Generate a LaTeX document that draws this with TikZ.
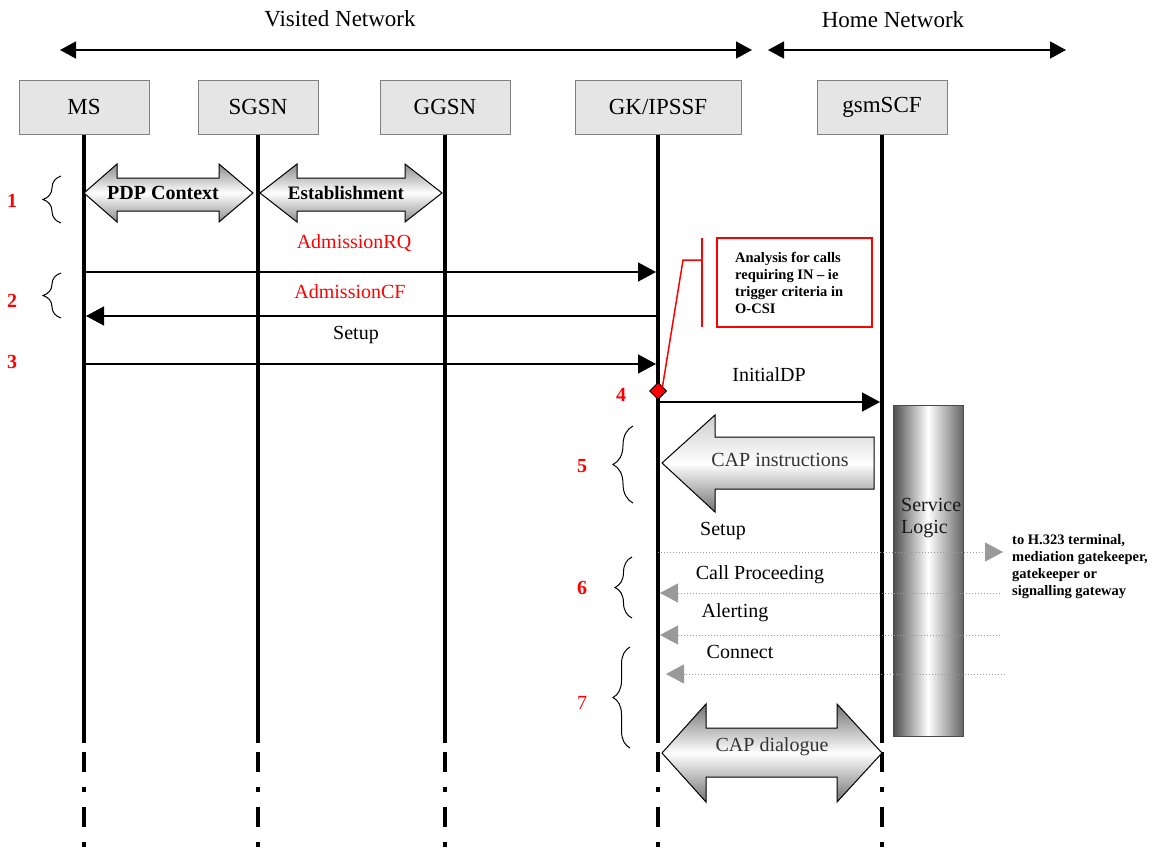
\documentclass[tikz,border=0pt]{standalone}
\usepackage{fontspec}
\setmainfont{Liberation Serif}
\usetikzlibrary{arrows.meta,shapes.geometric,decorations.pathreplacing}
\begin{document}
\begin{tikzpicture}[x=1pt,y=-1pt,
  entity/.style={draw=black!50, fill=black!10, line width=1pt, minimum width=130pt, minimum height=54pt, inner sep=0pt, font=\fontsize{23}{26}\selectfont},
  hdr/.style={inner sep=0pt, font=\fontsize{23}{26}\selectfont},
  life/.style={line width=4pt},
  lifetail/.style={line width=4pt, dash pattern=on 20pt off 15pt on 5pt off 15pt},
  span/.style={line width=1.5pt, {Triangle[length=16pt,width=17pt]}-{Triangle[length=16pt,width=17pt]}},
  msg/.style={line width=1.5pt, -{Triangle[length=18pt,width=19pt]}},
  relay/.style={draw=black!40, line width=1pt, dash pattern=on 1pt off 2pt, -{Triangle[length=18pt,width=19pt]}},
  lbl/.style={inner sep=0pt, font=\fontsize{20}{24}\selectfont},
  num/.style={inner sep=0pt, text=red, font=\fontsize{20}{24}\selectfont\bfseries},
  brc/.style={decorate, decoration={brace, amplitude=18pt}, line width=1pt},
  bigarrow/.style={draw=black, line width=1pt},
  small/.style={inner sep=0pt, align=left, font=\fontsize{14.5}{17}\selectfont\bfseries},
  redline/.style={draw=red, line width=1.5pt},
]
\useasboundingbox[fill=white] (0,0) rectangle (1156,849);

% network spans
\coordinate (vl) at (60,50); \coordinate (vr) at (752,50);
\coordinate (hl) at (768,50); \coordinate (hr) at (1066,50);
\draw[span] (vl) -- (vr);
\draw[span] (hl) -- (hr);
\node[hdr] (vis) at (340,19) {Visited Network};
\node[hdr] (home) at (893,20) {Home Network};

% entities
\node[entity] (ms) at (84,107) {MS};
\node[entity, minimum width=120pt] (sgsn) at (258,107) {SGSN};
\node[entity] (ggsn) at (445,107) {GGSN};
\node[entity, minimum width=166pt] (gk) at (658,107) {GK/IPSSF};
\node[entity] (scf) at (882,107) {gsmSCF};

% y levels
\coordinate (ysolid) at (0,743);
\coordinate (ytail) at (0,752);
\coordinate (ybot) at (0,849);
\coordinate (m1) at (0,272);
\coordinate (m2) at (0,316);
\coordinate (m3) at (0,364);
\coordinate (m4) at (0,402);

% lifelines
\foreach \n in {ms,sgsn,ggsn,gk,scf}{
  \draw[life] (\n.south) -- (\n.south |- ysolid);
  \draw[lifetail] (\n.south |- ytail) -- (\n.south |- ybot);
}

% step 1
\shadedraw[bigarrow, top color=black!45, bottom color=black!45, middle color=white]
  (84,193) -- (117,164) -- (117,178) -- (219,178) -- (219,164) -- (253,193) -- (219,222) -- (219,211) -- (117,211) -- (117,222) -- cycle;
\shadedraw[bigarrow, top color=black!45, bottom color=black!45, middle color=white]
  (260,193) -- (297,164) -- (297,178) -- (405,178) -- (405,164) -- (442,193) -- (405,222) -- (405,211) -- (297,211) -- (297,222) -- cycle;
\node[lbl, font=\fontsize{20}{24}\selectfont\bfseries] (pdp) at (163,193) {PDP Context};
\node[lbl, font=\fontsize{19}{24}\selectfont\bfseries] (est) at (346,193) {Establishment};

% braces and numbers
\draw[brc] (61,223) -- (61,176);
\draw[brc] (61,318) -- (61,273);
\draw[brc, decoration={amplitude=20pt}] (633,503) -- (633,426);
\draw[brc, decoration={amplitude=17pt}] (632,618) -- (632,557);
\draw[brc, decoration={amplitude=17pt}] (630,748) -- (630,647);
\node[num] (n1) at (12,201) {1};
\node[num] (n2) at (12,301) {2};
\node[num] (n3) at (12,362) {3};
\node[num] (n4) at (621,395) {4};
\node[num] (n5) at (582,466) {5};
\node[num] (n6) at (582,588) {6};
\node[num, font=\fontsize{20}{24}\selectfont] (n7) at (582,703) {7};

% steps 2-3
\draw[msg, shorten >=2pt] (ms.south |- m1) -- (gk.south |- m1);
\draw[msg, shorten >=2pt] (gk.south |- m2) -- (ms.south |- m2);
\draw[msg, shorten >=2pt] (ms.south |- m3) -- (gk.south |- m3);
\node[lbl, text=red] (arq) at (354,243) {AdmissionRQ};
\node[lbl, text=red] (acf) at (350,292) {AdmissionCF};
\node[lbl] (setup1) at (356,335) {Setup};

% analysis note
\node[draw=red, line width=1.5pt, minimum width=155pt, minimum height=89pt, inner sep=0pt] (note) at (794.5,282.5) {};
\node[small, anchor=west] (notetxt) at (735,282.5) {Analysis for calls\\requiring IN -- ie\\trigger criteria in\\O-CSI};
\coordinate (bartop) at (702,238);
\coordinate (barbot) at (702,327);
\coordinate (barmid) at (702,260);
\coordinate (bend) at (683,260);
\draw[redline] (bartop) -- (barbot);
\node[diamond, draw=black, fill=red, minimum size=17pt, inner sep=0pt, line width=1pt] (d4) at (658,391) {};
\draw[redline] (d4.north east) -- (bend) -- (barmid);

% step 4
\draw[msg, shorten >=2pt] (gk.south |- m4) -- (scf.south |- m4);
\node[lbl] (idp) at (769,375) {InitialDP};

% service logic
\shadedraw[draw=black!70, line width=1pt, left color=black!70, right color=black!60, middle color=white]
  (893,405) rectangle (963,736);
\node[lbl, align=left, anchor=west, text=black!90, font=\fontsize{20}{22}\selectfont] (svc) at (901,518) {Service\\Logic};

% step 5
\shadedraw[bigarrow, top color=black!20, bottom color=black!55, middle color=white]
  (662,463) -- (715,415) -- (715,437) -- (874,437) -- (874,489) -- (715,489) -- (715,512) -- cycle;
\node[lbl, text=black!80] (capi) at (780,460) {CAP instructions};

% step 6 relays
\coordinate (ext1) at (1003,552);
\coordinate (ext2) at (1000,593);
\coordinate (ext3) at (1000,635);
\coordinate (ext4) at (1005,674);
\coordinate (gk2) at (660,593);
\coordinate (gk3) at (660,635);
\coordinate (gk4) at (666,674);
\draw[relay] (gk.south |- ext1) -- (ext1);
\draw[relay] (ext2) -- (gk2);
\draw[relay] (ext3) -- (gk3);
\draw[relay] (ext4) -- (gk4);
\node[lbl] (setup2) at (723,531) {Setup};
\node[lbl] (cp) at (760,575) {Call Proceeding};
\node[lbl] (alert) at (735,613) {Alerting};
\node[lbl] (conn) at (740,652) {Connect};
\node[small, anchor=north west] (dest) at (1012,534) {to H.323 terminal,\\mediation gatekeeper,\\gatekeeper or\\signalling gateway};

% step 7
\shadedraw[bigarrow, top color=black!55, bottom color=black!55, middle color=white]
  (662,753) -- (706,704) -- (706,728) -- (837,728) -- (837,704) -- (882,753) -- (837,802) -- (837,777) -- (706,777) -- (706,802) -- cycle;
\node[lbl, text=black!80] (capd) at (772,747) {CAP dialogue};
\end{tikzpicture}
\end{document}
